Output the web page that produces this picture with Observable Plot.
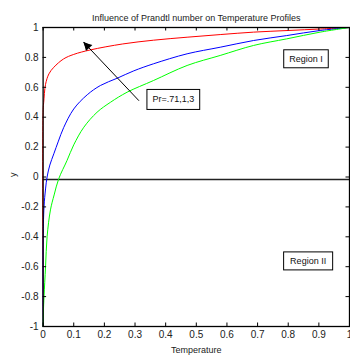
<!DOCTYPE html>
<html>
<head>
<meta charset="utf-8">
<script src="https://cdn.jsdelivr.net/npm/d3@7"></script>
<script src="https://cdn.jsdelivr.net/npm/@observablehq/plot@0.6"></script>
<style>
  html, body { margin: 0; padding: 0; background: #fff; }
  #chart { width: 350px; height: 360px; overflow: hidden; }
</style>
</head>
<body>
<div id="chart"></div>
<script>
// ---- data ----
const titleText = "Influence of Prandtl number on Temperature Profiles";
const xLabel = "Temperature";
const yLabel = "y";

const xTicks = [0, 0.1, 0.2, 0.3, 0.4, 0.5, 0.6, 0.7, 0.8, 0.9, 1];
const xTickLabels = ["0", "0.1", "0.2", "0.3", "0.4", "0.5", "0.6", "0.7", "0.8", "0.9", "1"];
const yTicks = [-1, -0.8, -0.6, -0.4, -0.2, 0, 0.2, 0.4, 0.6, 0.8, 1];
const yTickLabels = ["-1", "-0.8", "-0.6", "-0.4", "-0.2", "0", "0.2", "0.4", "0.6", "0.8", "1"];

const seriesNames = ["Pr=0.71", "Pr=1", "Pr=3"];
const seriesColors = ["#ff0000", "#0000ff", "#00ff00"];

// Pr = 0.71 (red)
const redX = [0, 0, 0.002, 0.008, 0.019, 0.035, 0.067, 0.1, 0.154, 0.26, 0.36, 0.47, 0.58, 0.687, 0.8, 0.904, 1];
const redY = [-1, 0.45, 0.5, 0.62, 0.69, 0.734, 0.79, 0.82, 0.85, 0.89, 0.915, 0.935, 0.953, 0.969, 0.98, 0.99, 1];
// Pr = 1 (blue)
const blueX = [0, 0, 0.003, 0.008, 0.013, 0.022, 0.035, 0.05, 0.067, 0.1, 0.144, 0.187, 0.241, 0.296, 0.36, 0.47, 0.578, 0.687, 0.795, 0.904, 1];
const blueY = [-1, -0.45, -0.2, -0.08, 0, 0.08, 0.155, 0.24, 0.33, 0.455, 0.55, 0.612, 0.66, 0.71, 0.757, 0.824, 0.868, 0.913, 0.946, 0.98, 1];
// Pr = 3 (green)
const greenX = [0, 0.001, 0.003, 0.008, 0.013, 0.024, 0.036, 0.051, 0.078, 0.1, 0.133, 0.176, 0.22, 0.274, 0.36, 0.47, 0.578, 0.687, 0.795, 0.904, 1];
const greenY = [-1, -0.9, -0.8, -0.6, -0.4, -0.22, -0.12, -0.012, 0.11, 0.215, 0.333, 0.433, 0.5, 0.567, 0.645, 0.746, 0.813, 0.88, 0.924, 0.969, 1];

// horizontal reference line
const baseX = [0, 1];
const baseY = [-0.017, -0.017];

// annotation arrow (tail -> head)
const arrowX1 = [0.312], arrowY1 = [0.512], arrowX2 = [0.133], arrowY2 = [0.9];

// boxed annotations
const noteText = ["Pr=.71,1,3", "Region I", "Region II"];
const noteX = [0.425, 0.858, 0.865];
const noteY = [0.518, 0.79, -0.562];

// ---- build tables ----
const seriesXs = [redX, blueX, greenX];
const seriesYs = [redY, blueY, greenY];
const curves = seriesNames.flatMap((name, i) =>
  seriesXs[i].map((x, j) => ({ name, x, y: seriesYs[i][j] })));
const baseLine = baseX.map((x, i) => ({ x, y: baseY[i] }));
const arrows = arrowX1.map((x1, i) => ({ x1, y1: arrowY1[i], x2: arrowX2[i], y2: arrowY2[i] }));
const notes = noteText.map((t, i) => ({ t, x: noteX[i], y: noteY[i] }));
const xt = xTicks.map((v, i) => ({ v, l: xTickLabels[i] }));
const yt = yTicks.map((v, i) => ({ v, l: yTickLabels[i] }));

const W = 350, H = 360, mT = 27, mB = 34, mL = 42.6, mR = 1;
const frameH = H - mT - mB, frameW = W - mL - mR;
const tickLen = 3.5;
const font = "'Liberation Sans', Arial, sans-serif";

// arrowhead orientation in screen pixels (from the scales' pixel spans)
const sx = frameW, sy = frameH / 2;
const adx = (arrowX1[0] - arrowX2[0]) * sx, ady = (arrowY2[0] - arrowY1[0]) * sy; // head -> tail in px (y down)
const alen = Math.hypot(adx, ady);
const headR = 3.3;
const headBack = (2 / 3) * (Math.sqrt(4 * Math.PI * headR * headR / Math.sqrt(3)) * Math.sqrt(3) / 2);
const headRot = -Math.atan2(adx, ady) * 180 / Math.PI;

const chart = Plot.plot({
  width: W, height: H,
  marginTop: mT, marginBottom: mB, marginLeft: mL, marginRight: mR,
  style: { fontFamily: font, fontSize: "10px", background: "#fff", color: "#000" },
  x: { domain: [0, 1], axis: null },
  y: { domain: [-1, 1], axis: null },
  color: { domain: seriesNames, range: seriesColors },
  marks: [
    Plot.line(baseLine, { x: "x", y: "y", stroke: "#222", strokeWidth: 1.4 }),
    Plot.line(curves, { x: "x", y: "y", z: "name", stroke: "name", strokeWidth: 1, curve: "catmull-rom" }),
    // inward tick marks
    Plot.ruleX(xTicks, { insetTop: frameH - tickLen, stroke: "#000" }),
    Plot.ruleX(xTicks, { insetBottom: frameH - tickLen, stroke: "#000" }),
    Plot.ruleY(yTicks, { insetRight: frameW - tickLen, stroke: "#000" }),
    Plot.ruleY(yTicks, { insetLeft: frameW - tickLen, stroke: "#000" }),
    Plot.frame({ stroke: "#000", strokeWidth: 1.3 }),
    // tick labels
    Plot.text(xt, { x: "v", text: "l", frameAnchor: "bottom", dy: 11, fontSize: 10, fill: "#222" }),
    Plot.text(yt, { y: "v", text: "l", frameAnchor: "left", dx: -4.5, textAnchor: "end", fontSize: 10, fill: "#222" }),
    // axis labels and title
    Plot.text([xLabel], { frameAnchor: "bottom", dy: 26, fontSize: 9, fill: "#222" }),
    Plot.text([yLabel], { frameAnchor: "left", dx: -30, rotate: -90, fontSize: 9, fill: "#222" }),
    Plot.text([titleText], { frameAnchor: "top", dy: -13, fontSize: 9, fill: "#222" }),
    // arrow
    Plot.arrow(arrows, { x1: "x1", y1: "y1", x2: "x2", y2: "y2", stroke: "#000", strokeWidth: 1, headLength: 10, headAngle: 40 }),
    Plot.dot(arrows, { x: "x2", y: "y2", symbol: "triangle", r: headR, fill: "#000", stroke: "none",
      rotate: headRot, dx: adx / alen * headBack, dy: ady / alen * headBack }),
    // boxed notes
    Plot.text(notes, { x: "x", y: "y", text: "t", fontSize: 9, fill: "#111" })
  ]
});

document.getElementById("chart").appendChild(chart);

// draw boxes around annotation texts (copy the text's own transform)
const padX = [5.5, 5.5, 6.5], padY = [6, 5, 5];
chart.querySelectorAll("text").forEach((t) => {
  const i = noteText.indexOf(t.textContent);
  if (i < 0) return;
  const b = t.getBBox();
  const r = document.createElementNS("http://www.w3.org/2000/svg", "rect");
  r.setAttribute("x", b.x - padX[i]);
  r.setAttribute("y", b.y - padY[i] + 1);
  r.setAttribute("width", b.width + 2 * padX[i]);
  r.setAttribute("height", b.height + 2 * padY[i] - 2);
  r.setAttribute("fill", "#fff");
  r.setAttribute("stroke", "#000");
  r.setAttribute("stroke-width", 1);
  const tr = t.getAttribute("transform");
  if (tr) r.setAttribute("transform", tr);
  t.parentNode.insertBefore(r, t);
});
</script>
</body>
</html>
